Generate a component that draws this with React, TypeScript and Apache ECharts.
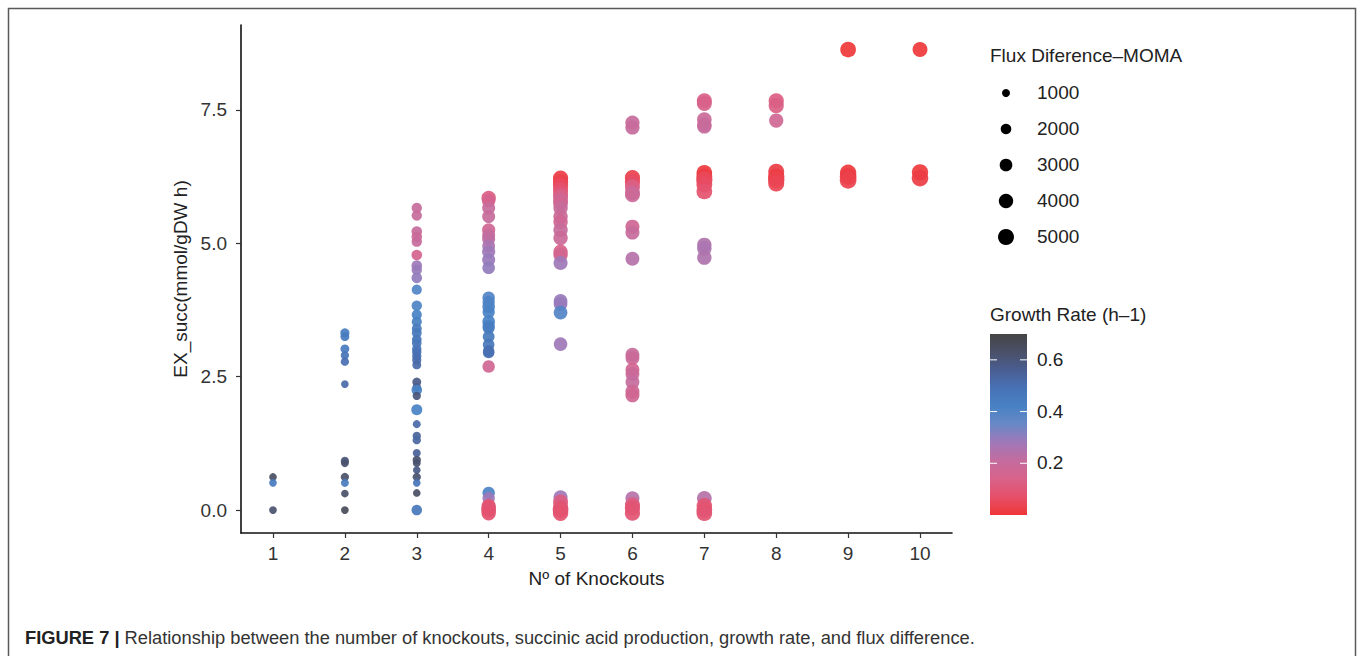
import React, { useEffect, useRef } from "react";
import * as echarts from "echarts";

// [succinate, growth rate, flux difference] per number of knockouts
const ko1: number[][] = [
  [0.62, 0.64, 900], [0.51, 0.45, 900], [0.0, 0.62, 900],
];
const ko2: number[][] = [
  [3.32, 0.44, 1400], [3.25, 0.45, 1300], [3.02, 0.45, 1300], [2.9, 0.48, 1100],
  [2.78, 0.5, 1100], [2.36, 0.52, 900], [0.92, 0.6, 1100], [0.88, 0.62, 1000],
  [0.62, 0.63, 1100], [0.51, 0.45, 1000], [0.31, 0.63, 900], [0.0, 0.66, 900],
];
const ko3: number[][] = [
  [5.66, 0.2, 1900], [5.52, 0.2, 1900], [5.22, 0.2, 2000], [5.12, 0.19, 2000],
  [5.03, 0.2, 1900], [4.78, 0.15, 2000], [4.58, 0.28, 2000], [4.5, 0.29, 1900],
  [4.35, 0.3, 2000], [4.13, 0.4, 1800], [3.83, 0.41, 1900], [3.66, 0.42, 1800],
  [3.53, 0.43, 1800], [3.4, 0.45, 1700], [3.32, 0.46, 1700], [3.2, 0.47, 1600],
  [3.13, 0.47, 1600], [3.02, 0.48, 1500], [2.96, 0.49, 1500], [2.88, 0.5, 1400],
  [2.81, 0.51, 1400], [2.72, 0.52, 1300], [2.4, 0.58, 1300], [2.3, 0.57, 1200],
  [2.25, 0.42, 2000], [2.14, 0.6, 1100], [1.88, 0.42, 2200], [1.61, 0.52, 1000],
  [1.39, 0.54, 1100], [1.31, 0.53, 1100], [1.07, 0.55, 1000], [0.94, 0.62, 1100],
  [0.88, 0.62, 1000], [0.75, 0.58, 900], [0.62, 0.62, 1100], [0.51, 0.48, 900],
  [0.32, 0.64, 900], [0.0, 0.47, 2000],
];
const ko4: number[][] = [
  [5.85, 0.12, 4000], [5.8, 0.15, 3500], [5.66, 0.2, 3200], [5.5, 0.2, 3200],
  [5.25, 0.17, 3300], [5.15, 0.2, 3200], [5.08, 0.22, 3200], [4.95, 0.26, 3100],
  [4.84, 0.28, 3300], [4.69, 0.29, 3200], [4.54, 0.3, 3000], [3.98, 0.4, 2900],
  [3.9, 0.41, 2800], [3.81, 0.41, 3000], [3.71, 0.42, 2800], [3.53, 0.42, 3000],
  [3.45, 0.43, 2800], [3.41, 0.44, 2700], [3.25, 0.46, 2600], [3.1, 0.47, 2500],
  [2.98, 0.5, 2400], [2.95, 0.5, 2400], [2.69, 0.17, 2900], [0.32, 0.41, 2900],
  [0.22, 0.28, 2900], [0.08, 0.1, 3800], [0.04, 0.08, 4000], [0.0, 0.09, 4200],
  [-0.06, 0.08, 4000],
];
const ko5: number[][] = [
  [6.22, 0.02, 4500], [6.15, 0.03, 4500], [6.08, 0.05, 4500], [6.0, 0.08, 4400],
  [5.92, 0.1, 4300], [5.87, 0.14, 4300], [5.8, 0.18, 4200], [5.75, 0.16, 4200],
  [5.66, 0.2, 4000], [5.5, 0.19, 4000], [5.4, 0.17, 4000], [5.25, 0.2, 4000],
  [5.1, 0.19, 4000], [4.84, 0.14, 4000], [4.78, 0.16, 4000], [4.63, 0.28, 3800],
  [3.92, 0.29, 3600], [3.86, 0.29, 3600], [3.7, 0.4, 3600], [3.11, 0.28, 3500],
  [0.24, 0.28, 3800], [0.15, 0.12, 4400], [0.04, 0.09, 4600], [0.0, 0.09, 4800],
  [-0.06, 0.08, 4600],
];
const ko6: number[][] = [
  [7.26, 0.2, 3900], [7.17, 0.2, 3900], [6.23, 0.03, 4500], [6.15, 0.06, 4500],
  [6.06, 0.13, 4400], [5.95, 0.17, 4300], [5.91, 0.19, 4300], [5.31, 0.17, 3800],
  [5.2, 0.2, 3800], [4.71, 0.24, 3700], [2.91, 0.2, 3700], [2.85, 0.19, 3700],
  [2.63, 0.16, 3700], [2.55, 0.19, 3700], [2.4, 0.21, 3700], [2.22, 0.18, 3800],
  [2.15, 0.17, 3800], [0.22, 0.24, 3800], [0.1, 0.12, 4400], [0.04, 0.09, 4500],
  [-0.06, 0.09, 4500],
];
const ko7: number[][] = [
  [7.67, 0.13, 4400], [7.62, 0.14, 4300], [7.32, 0.19, 4100], [7.22, 0.2, 4000],
  [7.19, 0.2, 4000], [6.32, 0.01, 4800], [6.25, 0.02, 4900], [6.19, 0.05, 5200],
  [6.1, 0.06, 4900], [5.97, 0.08, 4800], [4.97, 0.25, 4000], [4.9, 0.26, 4000],
  [4.73, 0.25, 4000], [0.22, 0.24, 4200], [0.08, 0.09, 4700], [0.0, 0.08, 4800],
  [-0.06, 0.09, 4800],
];
const ko8: number[][] = [
  [7.67, 0.12, 4500], [7.58, 0.13, 4500], [7.3, 0.17, 3900], [6.34, 0.02, 5000],
  [6.25, 0.02, 5200], [6.19, 0.03, 5300], [6.12, 0.04, 5000],
];
const ko9: number[][] = [
  [8.63, 0.003, 4800], [6.32, 0.01, 5300], [6.25, 0.02, 5500], [6.18, 0.03, 5500],
];
const ko10: number[][] = [
  [8.63, 0.003, 4300], [6.33, 0.01, 5200], [6.22, 0.02, 5400],
];

const knockoutGroups = [ko1, ko2, ko3, ko4, ko5, ko6, ko7, ko8, ko9, ko10];
const xTicks = [1, 2, 3, 4, 5, 6, 7, 8, 9, 10];
const yTicks = [0, 2.5, 5, 7.5];
const sizeLegendValues = [1000, 2000, 3000, 4000, 5000];
const growthTicks = [0.2, 0.4, 0.6];
const growthMin = 0;
const growthMax = 0.7;

const palette = [
  "#EF3636", "#E6506A", "#D8628A", "#C46C9E", "#A078B8", "#6A88C6",
  "#4882C4", "#4872B6", "#4A5E92", "#4A5068", "#454545",
];

const FONT = "'Liberation Sans', Arial, Helvetica, sans-serif";
const FS = 19;
const sizeOf = (flux: number) => Math.sqrt(16 + 0.048 * flux);

export default function App() {
  const ref = useRef<HTMLDivElement>(null);

  useEffect(() => {
    document.body.style.margin = "0";
    if (!ref.current) return;
    const chart = echarts.init(ref.current, undefined, { renderer: "svg" });

    const data: number[][] = [];
    knockoutGroups.forEach((g, i) => {
      g.forEach((p) => data.push([xTicks[i], p[0], p[1], p[2]]));
    });

    // legend geometry
    const legX = 990;
    const sizeYs = [93, 129, 165, 201, 237];
    const barTop = 334;
    const barBottom = 515;
    const barW = 37;
    const valToY = (v: number) =>
      barBottom - ((v - growthMin) / (growthMax - growthMin)) * (barBottom - barTop);

    const graphics: any[] = [
      {
        type: "rect",
        shape: { x: 8.5, y: 8.5, width: 1347, height: 700 },
        style: { fill: "none", stroke: "#5a5a5a", lineWidth: 1.5 },
        silent: true,
      },
      {
        type: "text",
        left: legX,
        top: 46,
        style: { text: "Flux Diference\u2013MOMA", font: `${FS}px ${FONT}`, fill: "#222" },
      },
      {
        type: "text",
        left: legX,
        top: 305,
        style: { text: "Growth Rate (h\u20131)", font: `${FS}px ${FONT}`, fill: "#222" },
      },
      {
        type: "rect",
        shape: { x: legX, y: barTop, width: barW, height: barBottom - barTop },
        style: {
          fill: new echarts.graphic.LinearGradient(0, 1, 0, 0,
            palette.map((c, i) => ({ offset: i / (palette.length - 1), color: c }))),
        },
      },
      {
        type: "text",
        left: 25,
        top: 628,
        style: {
          text: "{b|FIGURE 7 |} Relationship between the number of knockouts, succinic acid production, growth rate, and flux difference.",
          font: `18.3px ${FONT}`,
          fill: "#333",
          rich: { b: { fontWeight: "bold", fontSize: 18.3, fontFamily: FONT, fill: "#222" } },
        },
      },
    ];
    sizeLegendValues.forEach((v, i) => {
      graphics.push({
        type: "circle",
        shape: { cx: legX + 16, cy: sizeYs[i], r: sizeOf(v) / 2 },
        style: { fill: "#000" },
      });
      graphics.push({
        type: "text",
        left: 1037,
        top: sizeYs[i] - 10,
        style: { text: String(v), font: `${FS}px ${FONT}`, fill: "#222" },
      });
    });
    growthTicks.forEach((t) => {
      const y = valToY(t);
      graphics.push({
        type: "line",
        shape: { x1: legX, y1: y, x2: legX + 7, y2: y },
        style: { stroke: "#fff", lineWidth: 1 },
      });
      graphics.push({
        type: "line",
        shape: { x1: legX + barW - 7, y1: y, x2: legX + barW, y2: y },
        style: { stroke: "#fff", lineWidth: 1 },
      });
      graphics.push({
        type: "text",
        left: 1037,
        top: y - 10,
        style: { text: t.toFixed(1), font: `${FS}px ${FONT}`, fill: "#222" },
      });
    });

    chart.setOption({
      animation: false,
      backgroundColor: "#fff",
      grid: { left: 241, right: 406, top: 25, bottom: 123, containLabel: false },
      xAxis: {
        type: "value",
        min: 0.555,
        max: 10.445,
        name: "N\u00BA of Knockouts",
        nameLocation: "middle",
        nameGap: 36,
        nameTextStyle: { fontFamily: FONT, fontSize: FS, color: "#222" },
        axisLine: { show: true, onZero: false, lineStyle: { color: "#111", width: 1.6 } },
        axisTick: { show: true, customValues: xTicks, length: 5, lineStyle: { color: "#333", width: 1.2 } },
        axisLabel: { customValues: xTicks, margin: 11, fontFamily: FONT, fontSize: FS, color: "#333" },
        splitLine: { show: false },
      },
      yAxis: {
        type: "value",
        min: -0.43,
        max: 9.09,
        name: "EX_succ(mmol/gDW h)",
        nameLocation: "middle",
        nameRotate: 90,
        nameGap: 44,
        nameTextStyle: { fontFamily: FONT, fontSize: FS, color: "#222" },
        axisLine: { show: true, onZero: false, lineStyle: { color: "#111", width: 1.6 } },
        axisTick: { show: true, customValues: yTicks, length: 5, lineStyle: { color: "#333", width: 1.2 } },
        axisLabel: {
          customValues: yTicks,
          margin: 14,
          fontFamily: FONT,
          fontSize: FS,
          color: "#333",
          formatter: (v: number) => v.toFixed(1),
        },
        splitLine: { show: false },
      },
      visualMap: {
        type: "continuous",
        show: false,
        dimension: 2,
        min: growthMin,
        max: growthMax,
        seriesIndex: 0,
        inRange: { color: palette },
      },
      series: [
        {
          type: "scatter",
          data,
          symbol: "circle",
          symbolSize: (val: number[]) => sizeOf(val[3]),
          itemStyle: { opacity: 0.92 },
        },
      ],
      graphic: graphics,
    });

    return () => chart.dispose();
  }, []);

  return <div ref={ref} style={{ width: 1358, height: 656 }} />;
}
